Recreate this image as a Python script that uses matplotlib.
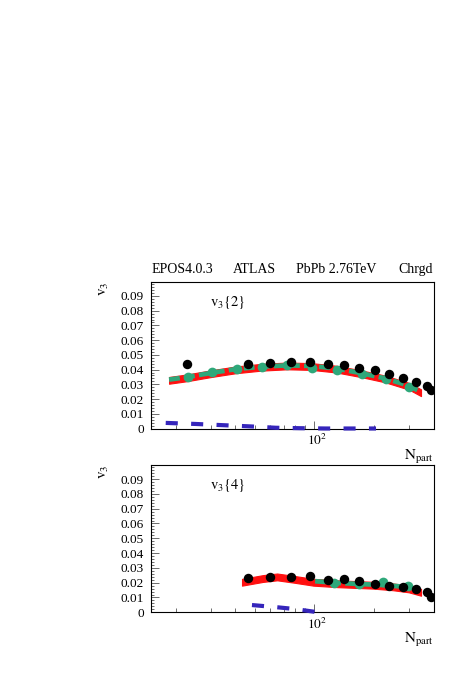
import matplotlib
matplotlib.use("Agg")
import matplotlib.pyplot as plt
import matplotlib.transforms as mtransforms
from matplotlib.ticker import FixedLocator, MultipleLocator, NullFormatter, LogLocator

plt.rcParams['font.family'] = ['Liberation Serif', 'DejaVu Serif']
plt.rcParams['mathtext.fontset'] = 'stix'

# ---- data ----
# upper panel: v3{2}
top_black_x = [22.9, 46.4, 60.1, 76.1, 95.1, 117.2, 141.5, 169, 201.7, 238.4, 279.3, 327, 370, 389]
top_black_y = [0.0439, 0.0439, 0.0448, 0.0452, 0.0450, 0.0439, 0.0430, 0.0412, 0.0396, 0.0371, 0.0346, 0.0317, 0.0286, 0.0259]
top_green_x = [23.0, 30.5, 40.7, 54.2, 72.6, 97.4, 129.6, 173.8, 229.3, 302.5]
top_green_y = [0.0353, 0.0383, 0.0403, 0.0421, 0.0428, 0.0412, 0.0396, 0.0369, 0.0333, 0.0284]
top_band_x = [18.5, 23, 30, 40, 54, 73, 97, 130, 174, 229, 302, 346]
top_band_y = [0.0327, 0.0345, 0.0372, 0.0398, 0.0416, 0.0425, 0.0421, 0.0403, 0.0371, 0.0336, 0.0286, 0.0243]
top_line_y = [0.0332, 0.0350, 0.0377, 0.0403, 0.0420, 0.0429, 0.0425, 0.0407, 0.0375, 0.0340, 0.0290, 0.0247]
top_blue_x = [17.8, 25, 34, 48, 64, 85, 114, 150, 205]
top_blue_y = [0.0038, 0.0031, 0.0023, 0.0014, 0.0005, 0.0002, 0.0, 0.0, 0.0]

# lower panel: v3{4}
bot_black_x = [46.3, 60.1, 76.1, 94.8, 117.2, 141.5, 169, 201.7, 238.4, 279.3, 327, 370, 389]
bot_black_y = [0.0230, 0.0237, 0.0241, 0.0244, 0.0221, 0.0223, 0.0212, 0.0189, 0.0180, 0.0171, 0.0160, 0.0135, 0.0106]
bot_green_x = [126, 168, 222, 298]
bot_green_y = [0.0196, 0.0190, 0.0202, 0.0175]
bot_line_x = [101, 130, 170, 225, 300]
bot_line_y = [0.0210, 0.0199, 0.0191, 0.0184, 0.0170]
bot_band_x = [43.2, 55, 65, 80, 99, 130, 198, 250, 300, 346]
bot_band_y = [0.0203, 0.0228, 0.0239, 0.0222, 0.0203, 0.0193, 0.0183, 0.0172, 0.0158, 0.0135]
bot_blue_x = [48.5, 65, 80, 101]
bot_blue_y = [0.0049, 0.0034, 0.0022, 0.0003]

band_half = 0.0023
header = ["EPOS4.0.3", "ATLAS", "PbPb 2.76TeV", "Chrgd"]

red = "#ff1010"
green = "#2ea87a"
blue = "#3525bb"

fig = plt.figure(figsize=(4.76, 6.74), dpi=100)
ax1 = fig.add_axes([151 / 476, 1 - 428.5 / 674, 282.5 / 476, 146.5 / 674])
ax2 = fig.add_axes([151 / 476, 1 - 612.3 / 674, 282.5 / 476, 147.3 / 674])


def draw_panel(ax, bx, by, ly, lx, gx, gy, kx, ky, ux, uy, tag):
    ax.fill_between(bx, [v - band_half for v in by], [v + band_half for v in by],
                    color=red, lw=0.8, zorder=2)
    ax.plot(lx, ly, color=green, lw=3.4, linestyle=(0, (2.3, 0.9)),
            dash_capstyle='butt', zorder=3)
    ax.plot(gx, gy, 'o', color=green, ms=7.0, mec='none', zorder=4)
    ax.plot(kx, ky, 'o', color='black', ms=6.8, mec='none', zorder=5)
    ax.plot(ux, uy, color=blue, lw=3.0, linestyle=(0, (2.9, 3.2)),
            dash_capstyle='butt', zorder=6, clip_on=False)

    ax.set_xscale('log')
    ax.set_xlim(15, 400)
    ax.set_ylim(0, 0.0995)

    ax.xaxis.set_major_locator(FixedLocator([100]))
    ax.set_xticklabels(['$10^{2}$'], fontsize=9.5)
    ax.xaxis.set_minor_locator(LogLocator(base=10, subs=[2, 3, 4, 5, 6, 7, 8, 9]))
    ax.xaxis.set_minor_formatter(NullFormatter())
    ax.yaxis.set_major_locator(MultipleLocator(0.01))
    ax.yaxis.set_minor_locator(MultipleLocator(0.002))
    ax.set_yticks([i * 0.01 for i in range(10)])
    ax.set_yticklabels(['0'] + ['%.2f' % (i * 0.01) for i in range(1, 10)], fontsize=9.5)

    ax.tick_params(axis='both', which='both', direction='in', top=False, right=False,
                   width=0.6, color='#555555')
    ax.tick_params(axis='y', which='major', length=5.5, pad=5)
    ax.tick_params(axis='y', which='minor', length=2.5)
    ax.tick_params(axis='x', which='major', length=6, pad=3)
    ax.tick_params(axis='x', which='minor', length=3)
    for sp in ax.spines.values():
        sp.set_linewidth(0.8)

    offset = mtransforms.ScaledTranslation(3 / 100, 0, fig.dpi_scale_trans)
    for lbl in ax.get_xticklabels():
        lbl.set_transform(lbl.get_transform() + offset)

    ax.text(0.21, 0.86, tag, transform=ax.transAxes, fontsize=10.5, va='center')
    ax.text(-0.165, 1.0, r'$\mathrm{v}_{3}$', transform=ax.transAxes, rotation=90,
            ha='center', va='top', fontsize=11)
    ax.text(1.0, -0.13, r'$\mathrm{N}_{\mathrm{part}}$', transform=ax.transAxes,
            ha='right', va='top', fontsize=11)


draw_panel(ax1, top_band_x, top_band_y, top_line_y, top_band_x, top_green_x, top_green_y,
           top_black_x, top_black_y, top_blue_x, top_blue_y, r'$\mathrm{v}_{3}\{2\}$')
draw_panel(ax2, bot_band_x, bot_band_y, bot_line_y, bot_line_x, bot_green_x, bot_green_y,
           bot_black_x, bot_black_y, bot_blue_x, bot_blue_y, r'$\mathrm{v}_{3}\{4\}$')

# header line above upper panel
xs = [152 / 476, 233 / 476, 296.5 / 476, 433 / 476]
has = ['left', 'left', 'left', 'right']
for s, x, h in zip(header, xs, has):
    fig.text(x, 1 - 273 / 674, s, ha=h, va='baseline', fontsize=10)

fig.savefig("out.png", dpi=100)
